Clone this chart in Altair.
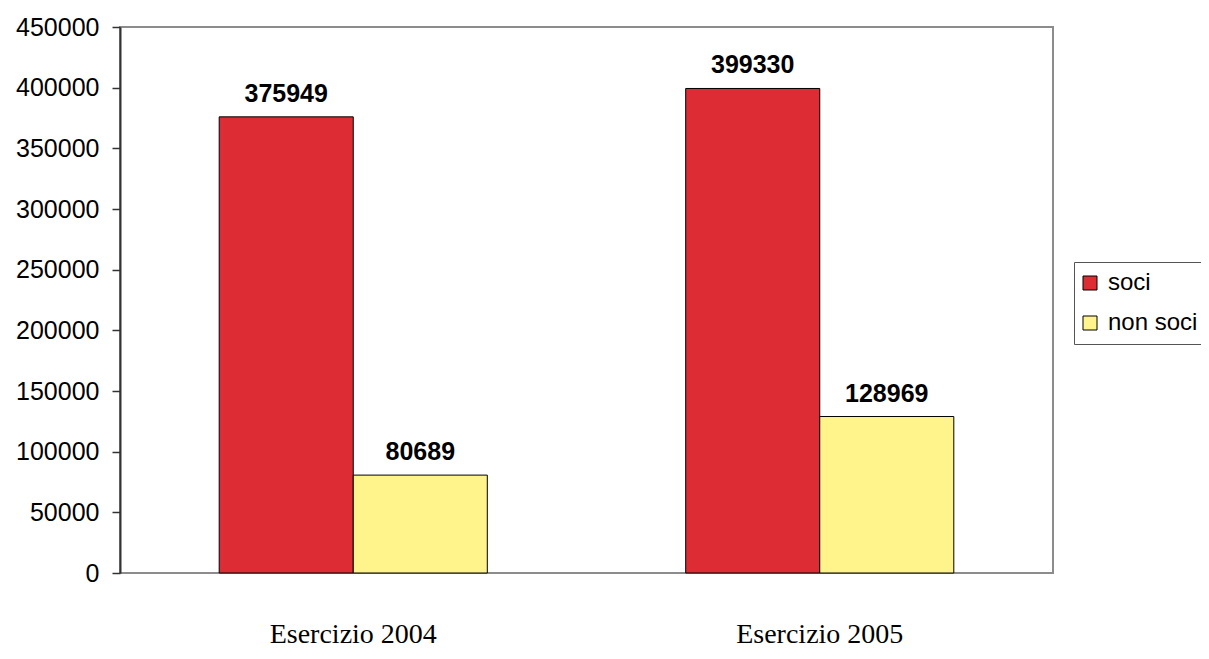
import altair as alt
import pandas as pd

categories = ["Esercizio 2004", "Esercizio 2005"]
series = ["soci", "non soci"]
soci = [375949, 399330]
non_soci = [80689, 128969]
colors = ["#DD2C34", "#FFF38C"]

rows = []
for i, c in enumerate(categories):
    rows.append({"cat": c, "serie": "soci", "value": soci[i]})
    rows.append({"cat": c, "serie": "non soci", "value": non_soci[i]})
df = pd.DataFrame(rows)

x_enc = alt.X("cat:N", sort=categories, title=None,
              scale=alt.Scale(paddingInner=0, paddingOuter=0),
              axis=alt.Axis(labelAngle=0, ticks=False, tickSize=0, domain=False,
                            labelFont="Liberation Serif", labelFontSize=28,
                            labelColor="black", labelPadding=47))
xoff = alt.XOffset("serie:N", sort=series,
                   scale=alt.Scale(paddingOuter=0.74, paddingInner=0))
y_enc = alt.Y("value:Q", title=None,
              scale=alt.Scale(domain=[0, 450000], nice=False),
              axis=alt.Axis(values=list(range(0, 450001, 50000)), format="d",
                            grid=False, tickSize=8, tickColor="#333333", tickWidth=1.5,
                            domainColor="#333333", domainWidth=2,
                            labelFont="Liberation Sans", labelFontSize=25,
                            labelColor="black", labelPadding=13))

bars = alt.Chart(df).mark_bar(stroke="black", strokeWidth=1).encode(
    x=x_enc, xOffset=xoff, y=y_enc,
    color=alt.Color("serie:N", sort=series,
                    scale=alt.Scale(domain=series, range=colors),
                    legend=alt.Legend(title=None, orient="none", legendX=954, legendY=235,
                                      symbolType="square", symbolSize=196,
                                      symbolStrokeColor="black", symbolStrokeWidth=1,
                                      symbolOffset=-5,
                                      labelFont="Liberation Sans", labelFontSize=24,
                                      labelColor="black", labelOffset=6,
                                      rowPadding=16, padding=9,
                                      strokeColor="#555555", fillColor="white")),
)

labels = alt.Chart(df).mark_text(font="Liberation Sans", fontSize=25, fontWeight="bold",
                                 color="black", baseline="alphabetic", dy=-15).encode(
    x=alt.X("cat:N", sort=categories), xOffset=alt.XOffset("serie:N", sort=series),
    y="value:Q", text=alt.Text("value:Q", format="d"),
)

chart = (bars + labels).properties(
    width=933, height=546,
    autosize=alt.AutoSizeParams(type="none"),
    padding={"left": 112, "top": 19, "right": 148, "bottom": 78},
).configure_view(stroke="#8c8c8c", strokeWidth=2)

chart.save("out.html", embed_options={"renderer": "svg", "actions": False})
